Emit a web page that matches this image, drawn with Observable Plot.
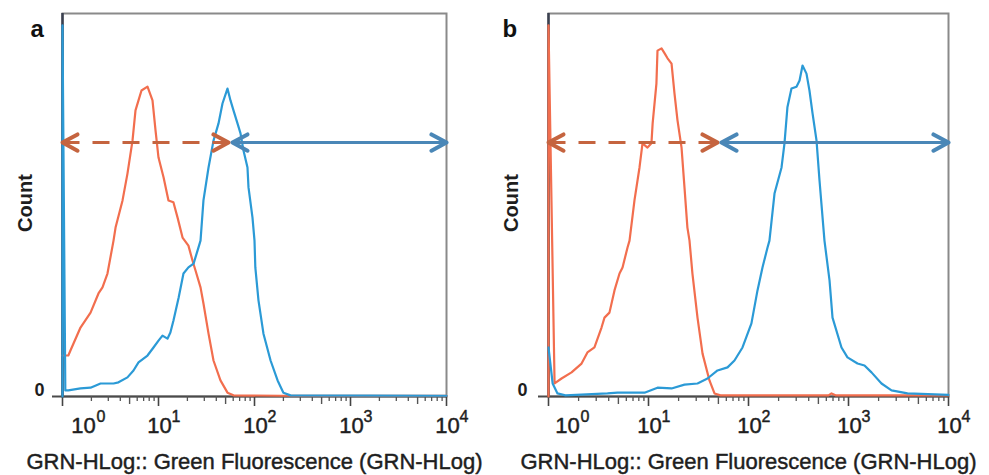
<!DOCTYPE html>
<html><head><meta charset="utf-8">
<script src="https://cdn.jsdelivr.net/npm/d3@7"></script>
<script src="https://cdn.jsdelivr.net/npm/@observablehq/plot@0.6"></script>
<style>
html,body{margin:0;padding:0;background:#fff;}
#row{display:flex;width:989px;height:475px;overflow:hidden;}
#row svg{display:block;flex:none;}
</style></head><body><div id="row"></div>
<script>
// ---- tick labels ----
const decades = [1, 10, 100, 1000, 10000];
const exponents = ["0", "1", "2", "3", "4"];
const minorSteps = [2, 3, 4, 6, 7, 8, 9];
const midSteps = [5];
const panelLabels = ["a", "b"];
const xLabel = "GRN-HLog:: Green Fluorescence (GRN-HLog)";
const yLabel = "Count";
const yZeroLabel = "0";

// ---- panel a: orange (unstained) histogram ----
const aRedX = [1, 1.15, 1.21, 1.54, 1.96, 2.37, 2.61, 2.94, 3.40, 3.57, 4.22, 4.75, 5.36, 5.76, 6.19, 6.65, 7.68, 8.66, 9.31, 10.0, 11.3, 12.7, 14.3, 15.8, 17.8, 20.5, 22.6, 24.3, 27.4, 29.4, 33.2, 37.4, 44.2, 52.3, 60.4, 187, 10000];
const aRedY = [10.7, 10.7, 12.0, 18.0, 21.9, 26.9, 28.5, 32.1, 40.7, 44.1, 51.2, 58.2, 66.8, 74.7, 77.3, 79.9, 80.9, 77.3, 69.5, 62.4, 57.2, 51.2, 50.7, 46.7, 41.5, 39.4, 35.5, 32.9, 28.5, 24.3, 16.4, 9.4, 4.2, 1.0, 0.3, 0.2, 0.2];
// ---- panel a: blue (stained) histogram ----
const aBlueX = [1, 1, 1.07, 1.15, 1.54, 1.96, 2.49, 3.40, 3.83, 4.75, 5.49, 6.19, 7.68, 8.87, 10.0, 11.0, 12.4, 13.3, 14.3, 16.2, 18.2, 20.5, 23.2, 25.5, 27.4, 29.4, 33.2, 37.4, 42.2, 46.4, 52.3, 56.2, 60.4, 66.5, 71.5, 76.8, 84.5, 86.6, 95.3, 100, 102, 110, 124, 147, 174, 200, 237, 10000];
const aBlueY = [0, 96.9, 1.6, 1.6, 2.1, 2.3, 3.4, 3.4, 3.7, 5.0, 6.8, 8.9, 10.7, 12.8, 14.6, 15.9, 15.1, 16.7, 19.8, 25.8, 32.1, 33.7, 34.7, 38.1, 40.7, 51.2, 59.8, 66.8, 71.3, 76.5, 80.4, 77.3, 74.7, 71.3, 68.7, 64.2, 59.8, 54.6, 46.7, 40.7, 33.7, 25.1, 16.4, 9.4, 4.2, 1.0, 0.3, 0.2];
// ---- panel b: orange histogram ----
const bRedX = [1, 1, 1.15, 1.35, 1.70, 2.14, 2.45, 2.88, 3.39, 3.63, 4.07, 4.57, 5.13, 5.50, 6.17, 6.46, 7.24, 8.13, 8.71, 9.77, 10.7, 11.0, 12.0, 12.3, 13.5, 14.5, 15.5, 17.0, 18.2, 19.5, 21.4, 22.9, 24.5, 25.7, 27.5, 30.9, 34.7, 40.7, 45.7, 52.5, 631, 676, 741, 10000];
const bRedY = [0, 96.9, 3.4, 4.7, 6.3, 8.6, 11.5, 12.8, 18.0, 20.6, 21.9, 27.7, 32.1, 33.7, 38.9, 40.7, 51.2, 59.8, 66.1, 65.0, 66.1, 71.3, 81.7, 90.3, 90.9, 89.6, 88.3, 86.9, 79.1, 72.1, 65.0, 54.6, 44.1, 40.7, 32.1, 20.6, 11.2, 4.2, 0.8, 0.3, 0.3, 0.8, 0.3, 0.3];
// ---- panel b: blue histogram ----
const bBlueX = [1, 1.10, 1.23, 1.48, 3.89, 4.90, 9.12, 12.3, 17.0, 22.9, 30.9, 38.9, 49.0, 61.7, 72.4, 87.1, 107, 123, 138, 155, 162, 182, 214, 229, 245, 269, 302, 324, 347, 380, 407, 437, 479, 513, 575, 646, 692, 851, 977, 1230, 1445, 1698, 2138, 2692, 3890, 10000];
const bBlueY = [12.8, 3.4, 0.8, 0.3, 0.8, 1.0, 1.0, 2.3, 2.1, 3.1, 3.4, 4.7, 6.8, 7.6, 9.4, 12.8, 19.1, 27.7, 33.7, 38.9, 40.7, 53.0, 59.8, 66.1, 75.5, 80.4, 80.9, 82.5, 86.4, 84.3, 79.9, 73.9, 66.8, 56.4, 40.7, 30.3, 20.6, 12.8, 10.2, 8.6, 8.1, 6.3, 3.4, 1.6, 0.8, 0.4];

// ---- gate arrows (x extents, count level) ----
const aDashedGate = [1, 53.6];
const aSolidGate = [59, 10000];
const bDashedGate = [1, 49];
const bSolidGate = [53.7, 10000];
const gateCount = 66.3;

const FONT = "'Liberation Sans', Arial, Helvetica, sans-serif";
const RED = "#f26e4e", BLUE = "#2b9ad6", GATE_RED = "#c5643f", GATE_BLUE = "#4a87b7";
const INK = "#1e1e1e";

function panel(cfg) {
  const red = cfg.redX.map((x, i) => ({x, y: cfg.redY[i]}));
  const blue = cfg.blueX.map((x, i) => ({x, y: cfg.blueY[i]}));
  const minor = decades.slice(0, -1).flatMap(d => minorSteps.map(k => k * d));
  const mid = decades.slice(0, -1).flatMap(d => midSteps.map(k => k * d));
  const plotH = 475 - 13 - 79;
  const heavy = {stroke: INK, strokeWidth: 0.45};
  const svg = Plot.plot({
    width: cfg.width, height: 475,
    marginLeft: cfg.ml, marginRight: cfg.mr, marginTop: 13, marginBottom: 79,
    x: {type: "log", domain: [1, 10000], axis: null},
    y: {domain: [0, 100], axis: null},
    style: {fontFamily: FONT, background: "white", overflow: "visible", color: INK},
    marks: [
      Plot.frame({stroke: "#8a8a8a", strokeWidth: 2}),
      Plot.ruleX([1], {stroke: "#3b4150", strokeWidth: 2.5}),
      Plot.ruleY([0], {stroke: "#4a4a4a", strokeWidth: 2, insetLeft: -10}),
      Plot.ruleX(decades, {stroke: "#444", strokeWidth: 1.6, insetTop: plotH, insetBottom: -10}),
      Plot.ruleX(mid, {stroke: "#555", strokeWidth: 1.4, insetTop: plotH, insetBottom: -8}),
      Plot.ruleX(minor, {stroke: "#555", strokeWidth: 1.3, insetTop: plotH, insetBottom: -5}),
      Plot.line(red, {x: "x", y: "y", stroke: RED, strokeWidth: 2.2, curve: "linear"}),
      Plot.line(blue, {x: "x", y: "y", stroke: BLUE, strokeWidth: 2.2, curve: "linear"}),
      Plot.link([cfg.dashed], {x1: d => d[0], x2: d => d[1], y1: gateCount, y2: gateCount,
        stroke: GATE_RED, strokeWidth: 3, strokeDasharray: "17,13", markerStart: "arrow", markerEnd: "arrow"}),
      Plot.link([cfg.solid], {x1: d => d[0], x2: d => d[1], y1: gateCount, y2: gateCount,
        stroke: GATE_BLUE, strokeWidth: 3, markerStart: "arrow", markerEnd: "arrow"}),
      // tick labels "10" with superscript exponents
      Plot.text(decades.slice(0, 1), {x: d => d, text: () => "10", frameAnchor: "bottom", lineAnchor: "bottom",
        dx: cfg.firstDx, dy: 36, fontSize: 22, fill: INK, ...heavy}),
      Plot.text(decades.slice(1), {x: d => d, text: () => "10", frameAnchor: "bottom", lineAnchor: "bottom",
        dx: 1, dy: 36, fontSize: 22, fill: INK, ...heavy}),
      Plot.text(decades.slice(0, 1), {x: d => d, text: (d, i) => exponents[i], frameAnchor: "bottom", lineAnchor: "bottom",
        textAnchor: "start", dx: cfg.firstDx + 13, dy: 25, fontSize: 16, fill: INK, ...heavy}),
      Plot.text(decades.slice(1), {x: d => d, text: (d, i) => exponents[i + 1], frameAnchor: "bottom", lineAnchor: "bottom",
        textAnchor: "start", dx: 13, dy: 25, fontSize: 16, fill: INK, ...heavy}),
      // y zero label
      Plot.text([yZeroLabel], {y: 0, text: d => d, frameAnchor: "left", textAnchor: "end", lineAnchor: "bottom",
        dx: cfg.zeroDx, dy: -1, fontSize: 18, fontWeight: "bold", fill: INK}),
      // axis titles
      Plot.text([yLabel], {text: d => d, frameAnchor: "left", textAnchor: "middle", rotate: -90, dx: -37, dy: -2,
        fontSize: 20, fontWeight: "bold", fill: INK}),
      Plot.text([xLabel], {text: d => d, frameAnchor: "bottom", textAnchor: "middle", lineAnchor: "bottom", dy: 72,
        fontSize: 22, fill: INK, ...heavy}),
      // panel letter
      Plot.text([cfg.letter], {text: d => d, frameAnchor: "top-left", textAnchor: "start", lineAnchor: "bottom",
        dx: cfg.letterDx, dy: 23, fontSize: 24, fontWeight: "bold", fill: "#111"})
    ]
  });
  // enlarge arrowheads into bold open chevrons pointing outward at both ends (styling only)
  d3.select(svg).selectAll("marker")
    .attr("orient", "auto-start-reverse")
    .attr("viewBox", "-6 -4 8 8").attr("markerWidth", 8).attr("markerHeight", 8)
    .attr("stroke-dasharray", "none")
    .selectAll("path").attr("d", "M-5,-2.7L0,0L-5,2.7").attr("stroke-width", 1.35).attr("stroke-dasharray", "none");
  return svg;
}

const row = document.getElementById("row");
row.appendChild(panel({width: 494, ml: 62, mr: 48, redX: aRedX, redY: aRedY, blueX: aBlueX, blueY: aBlueY,
  dashed: aDashedGate, solid: aSolidGate, letter: panelLabels[0], letterDx: -32, zeroDx: -18, firstDx: 21}));
row.appendChild(panel({width: 495, ml: 54, mr: 41, redX: bRedX, redY: bRedY, blueX: bBlueX, blueY: bBlueY,
  dashed: bDashedGate, solid: bSolidGate, letter: panelLabels[1], letterDx: -46, zeroDx: -21, firstDx: 19}));
</script></body></html>
